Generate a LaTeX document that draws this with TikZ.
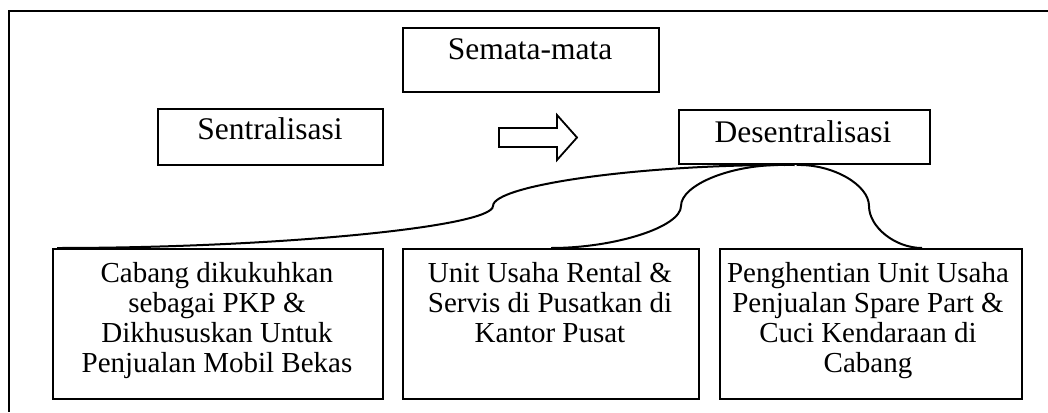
\documentclass[tikz,border=0pt]{standalone}
\usepackage{fontspec}
\setmainfont{Liberation Serif}
\usetikzlibrary{calc}
\begin{document}
\begin{tikzpicture}[x=0.5pt,y=-0.5pt,
  line width=1pt,
  box/.style={draw, line width=1pt, inner sep=0pt, anchor=north west},
  toptext/.style={font=\fontsize{15.75}{18}\selectfont, anchor=base, inner sep=0pt},
  bottext/.style={font=\fontsize{14.5}{15}\selectfont, align=center, anchor=north, inner sep=0pt},
  conn/.style={line width=1pt},
  frame/.style={line width=1pt}]
\useasboundingbox (0,0) rectangle (1048,412);
% frame
\coordinate (fr) at (1048,11);
\coordinate (fc) at (9,11);
\coordinate (fb) at (9,412);
\draw[frame] (fr) -- (fc) -- (fb);
% top boxes
\node[box, minimum width=128pt, minimum height=32pt] (sem) at (402,27) {};
\node[toptext] (semt) at (530,59) {Semata-mata};
\node[box, minimum width=112.5pt, minimum height=28pt] (sen) at (157,108) {};
\node[toptext] (sent) at (270,139) {Sentralisasi};
\node[box, minimum width=125.5pt, minimum height=27pt] (des) at (678,109) {};
\node[toptext] (dest) at (803,142) {Desentralisasi};
% block arrow
\draw[line width=0.9pt, line join=miter] (499,128) -- (557,128) -- (557,115) -- (577,137.5) -- (557,160) -- (557,147) -- (499,147) -- cycle;
% bottom boxes
\node[box, minimum width=165pt, minimum height=75pt] (b1) at (52,248) {};
\node[box, minimum width=148pt, minimum height=75pt] (b2) at (402,248) {};
\node[box, minimum width=151pt, minimum height=75pt] (b3) at (719,248) {};
\node[bottext] (b1t) at (217,261) {Cabang dikukuhkan\\sebagai PKP \&\\Dikhususkan Untuk\\Penjualan Mobil Bekas};
\node[bottext] (b2t) at (550,261) {Unit Usaha Rental \&\\Servis di Pusatkan di\\Kantor Pusat};
\node[bottext] (b3t) at (868,261) {Penghentian Unit Usaha\\Penjualan Spare Part \&\\Cuci Kendaraan di\\Cabang};
% connectors
\coordinate (s1) at ($(des.south)+(-10,0)$);
\coordinate (s2) at ($(des.south)+(-20,0)$);
\coordinate (s3) at ($(des.south)+(-8,0)$);
\coordinate (e1) at ($(b1.north west)+(5,0)$);
\coordinate (e2) at (b2.north);
\coordinate (e3) at ($(b3.north)+(51,0)$);
\draw[conn] (s1) .. controls (643,164) and (493,185) .. (493,206)
            .. controls (493,227) and (275,248) .. (e1);
\draw[conn] (s2) .. controls (731,164) and (681,185) .. (681,206)
            .. controls (681,227) and (615,248) .. (e2);
\draw[conn] (s3) .. controls (833,164) and (869,185) .. (869,206)
            .. controls (869,227) and (895,248) .. (e3);
\end{tikzpicture}
\end{document}
